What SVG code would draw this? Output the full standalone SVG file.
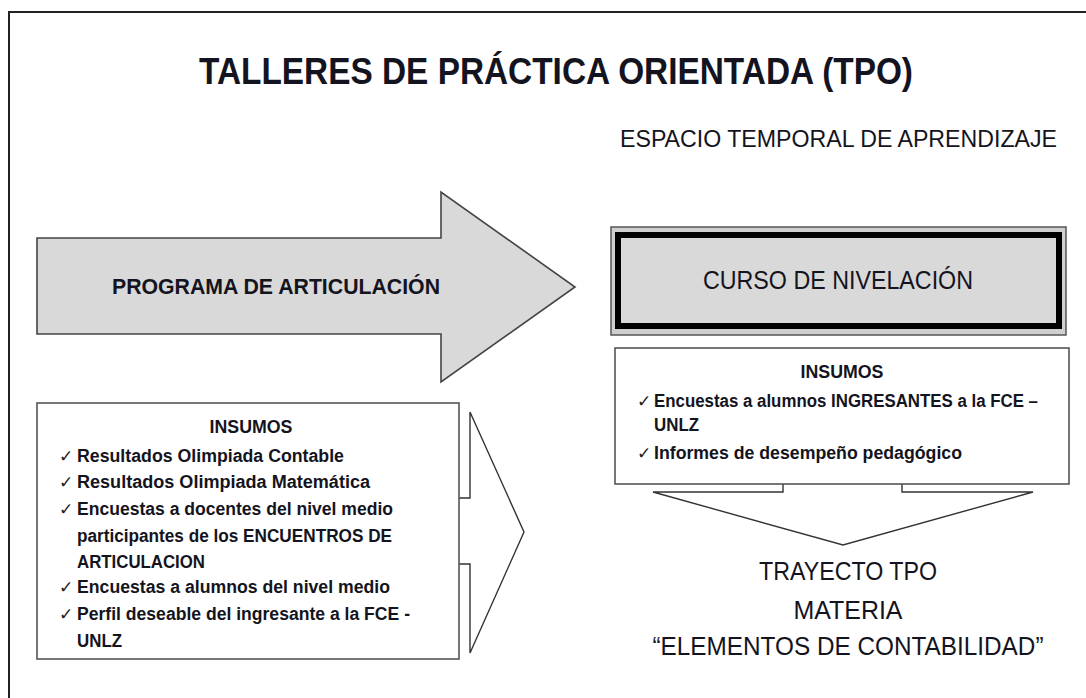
<svg xmlns="http://www.w3.org/2000/svg" width="1086" height="698" viewBox="0 0 1086 698">
  <style>
    text { font-family: "Liberation Sans", Arial, sans-serif; fill: #141420; }
    .b { font-weight: bold; }
    .ins { font-size: 17.5px; font-weight: bold; }
    .chk { font-family: "DejaVu Sans", sans-serif; font-size: 17px; fill: #222; }
    .box { fill: #ffffff; stroke: #555; stroke-width: 1.6; }
    .conn { fill: none; stroke: #333; stroke-width: 1.4; stroke-linejoin: miter; }
  </style>
  <rect x="0" y="0" width="1086" height="698" fill="#ffffff"/>
  <rect id="frame" x="9" y="12" width="1120" height="720" fill="none" stroke="#222" stroke-width="2"/>

  <g id="title">
    <text class="b" x="199" y="84" font-size="37" textLength="714" lengthAdjust="spacingAndGlyphs">TALLERES DE PRÁCTICA ORIENTADA (TPO)</text>
  </g>

  <g id="espacio">
    <text x="620" y="147" font-size="24" textLength="437" lengthAdjust="spacingAndGlyphs">ESPACIO TEMPORAL DE APRENDIZAJE</text>
  </g>

  <g id="programa">
    <polygon points="37,238 441,238 441,192 575,287 441,382 441,334 37,334" fill="#d9d9d9" stroke="#444" stroke-width="1.6"/>
    <text class="b" x="112" y="294" font-size="22" textLength="328" lengthAdjust="spacingAndGlyphs">PROGRAMA DE ARTICULACIÓN</text>
  </g>

  <g id="curso">
    <rect x="611" y="227" width="455" height="108" fill="#cfcfcf" stroke="#555" stroke-width="1.5"/>
    <rect x="618" y="235" width="441" height="91" fill="#d9d9d9" stroke="#000" stroke-width="6"/>
    <text x="703" y="289" font-size="26" textLength="270" lengthAdjust="spacingAndGlyphs">CURSO DE NIVELACIÓN</text>
  </g>

  <g id="connectors">
    <polyline class="conn" points="459,498 470,498 470,412 524,532 470,653 470,564 459,564"/>
    <polyline class="conn" points="783,484 783,492 653,492 843,545 1033,492 902,492 902,484"/>
  </g>

  <g id="insumos-izq">
    <rect class="box" x="37" y="403" width="422" height="256"/>
    <text class="ins" x="251" y="433" text-anchor="middle" textLength="83" lengthAdjust="spacingAndGlyphs">INSUMOS</text>
    <text class="chk" x="59" y="462">✓</text>
    <text class="ins" x="77" y="462" textLength="267" lengthAdjust="spacingAndGlyphs">Resultados Olimpiada Contable</text>
    <text class="chk" x="59" y="488">✓</text>
    <text class="ins" x="77" y="488" textLength="293" lengthAdjust="spacingAndGlyphs">Resultados Olimpiada Matemática</text>
    <text class="chk" x="59" y="515">✓</text>
    <text class="ins" x="77" y="515" textLength="316" lengthAdjust="spacingAndGlyphs">Encuestas a docentes del nivel medio</text>
    <text class="ins" x="77" y="542" textLength="315" lengthAdjust="spacingAndGlyphs">participantes de los ENCUENTROS DE</text>
    <text class="ins" x="77" y="568" textLength="128" lengthAdjust="spacingAndGlyphs">ARTICULACION</text>
    <text class="chk" x="59" y="593">✓</text>
    <text class="ins" x="77" y="593" textLength="313" lengthAdjust="spacingAndGlyphs">Encuestas a alumnos del nivel medio</text>
    <text class="chk" x="59" y="620">✓</text>
    <text class="ins" x="77" y="620" textLength="333" lengthAdjust="spacingAndGlyphs">Perfil deseable del ingresante a la FCE -</text>
    <text class="ins" x="77" y="647" textLength="45" lengthAdjust="spacingAndGlyphs">UNLZ</text>
  </g>

  <g id="insumos-der">
    <rect class="box" x="615" y="348" width="454" height="136"/>
    <text class="ins" x="842" y="378" text-anchor="middle" textLength="83" lengthAdjust="spacingAndGlyphs">INSUMOS</text>
    <text class="chk" x="637" y="407">✓</text>
    <text class="ins" x="654" y="407" textLength="384" lengthAdjust="spacingAndGlyphs">Encuestas a alumnos INGRESANTES a la FCE –</text>
    <text class="ins" x="654" y="431" textLength="45" lengthAdjust="spacingAndGlyphs">UNLZ</text>
    <text class="chk" x="637" y="459">✓</text>
    <text class="ins" x="654" y="459" textLength="308" lengthAdjust="spacingAndGlyphs">Informes de desempeño pedagógico</text>
  </g>

  <g id="trayecto">
    <text x="848" y="580" font-size="25" text-anchor="middle" textLength="178" lengthAdjust="spacingAndGlyphs">TRAYECTO TPO</text>
    <text x="848" y="619" font-size="25" text-anchor="middle" textLength="109" lengthAdjust="spacingAndGlyphs">MATERIA</text>
    <text x="848" y="655" font-size="25" text-anchor="middle" textLength="391" lengthAdjust="spacingAndGlyphs">“ELEMENTOS DE CONTABILIDAD”</text>
  </g>
</svg>
